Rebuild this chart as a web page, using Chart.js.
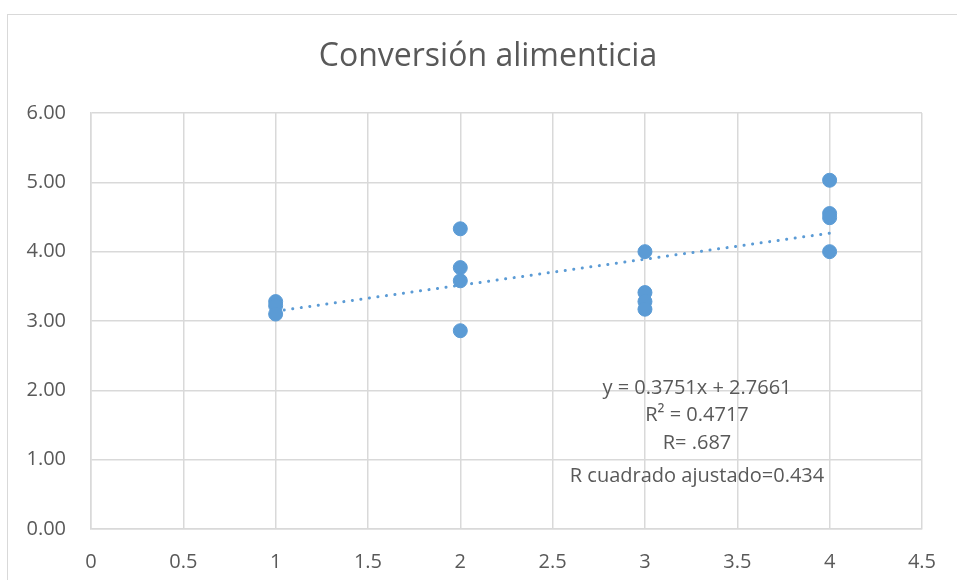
<!DOCTYPE html>
<html>
<head>
<meta charset="utf-8">
<script src="https://cdn.jsdelivr.net/npm/chart.js@4/dist/chart.umd.min.js"></script>
<style>
html,body{margin:0;padding:0;background:#fff;}
#wrap{position:relative;width:957px;height:580px;}
#frame{position:absolute;left:7px;top:14px;width:960px;height:600px;border:1.5px solid #d9d9d9;box-sizing:border-box;}
canvas{position:absolute;left:0;top:0;}
</style>
</head>
<body>
<div id="wrap">
<div id="frame"></div>
<canvas id="chart" width="957" height="580"></canvas>
</div>
<script>
// puntos (x = tratamiento, y = conversion)
const xValues = [1,1,1, 2,2,2,2, 3,3,3,3, 4,4,4,4];
const yValues = [3.28,3.22,3.10, 4.33,3.77,3.58,2.86, 4.00,3.41,3.28,3.17, 5.03,4.55,4.49,4.00];

// linea de tendencia de Excel
const slope = 0.3751;
const intercept = 2.7661;
const trendX = [1,4];

const chartTitle = "Conversión alimenticia";
const notes = ["y = 0.3751x + 2.7661","R² = 0.4717","R= .687","R cuadrado ajustado=0.434"];

const xTicks = [0,0.5,1,1.5,2,2.5,3,3.5,4,4.5];

const blue = "#5b9bd5";
const txt = "#595959";
const grid = "#d9d9d9";
const font = "'Open Sans', sans-serif";

const points = xValues.map((x,i)=>({x:x,y:yValues[i]}));
const trend = trendX.map(x=>({x:x,y:slope*x+intercept}));

/* titulo y texto de la tendencia */
const textPlugin = {
id:"texts",
afterDraw(chart){
const c = chart.ctx;
c.save();
c.fillStyle = txt;
c.textAlign = "center";
c.textBaseline = "middle";
c.font = "32px " + font;
c.fillText(chartTitle,488,57);
c.font = "20px " + font;
const ys = [388,415,443,476];
notes.forEach((t,i)=>c.fillText(t,697,ys[i]));
c.restore();
}
};

new Chart(document.getElementById("chart"),{
type:"scatter",
data:{
datasets:[
{
data: trend,
type:"line",
showLine:true,
borderColor: blue,
borderWidth:3,
borderDash:[0.1,8.5],
borderCapStyle:"round",
pointRadius:0,
fill:false,
order:2
},
{
data: points,
backgroundColor: blue,
borderColor: blue,
pointRadius:7,
pointHoverRadius:7,
order:1
}
]
},
options:{
responsive:false,
animation:false,
layout:{padding:{left:0,right:34,top:113,bottom:0}},
plugins:{
legend:{display:false},
tooltip:{enabled:false},
title:{display:false}
},
scales:{
x:{
type:"linear",
min:0,max:4.5,
afterBuildTicks:(s)=>{s.ticks = xTicks.map(v=>({value:v}));},
grid:{color:grid,lineWidth:1.5,drawTicks:false},
border:{color:grid,width:1.5},
ticks:{color:txt,font:{family:font,size:20},padding:21,callback:(v)=>String(v)},
afterFit:(s)=>{s.height = 51;}
},
y:{
min:0,max:6,
grid:{color:grid,lineWidth:1.5,drawTicks:false},
border:{color:grid,width:1.5},
ticks:{stepSize:1,color:txt,font:{family:font,size:20},padding:25,callback:(v)=>v.toFixed(2)},
afterFit:(s)=>{s.width = 91;}
}
}
},
plugins:[textPlugin]
});
</script>
</body>
</html>
